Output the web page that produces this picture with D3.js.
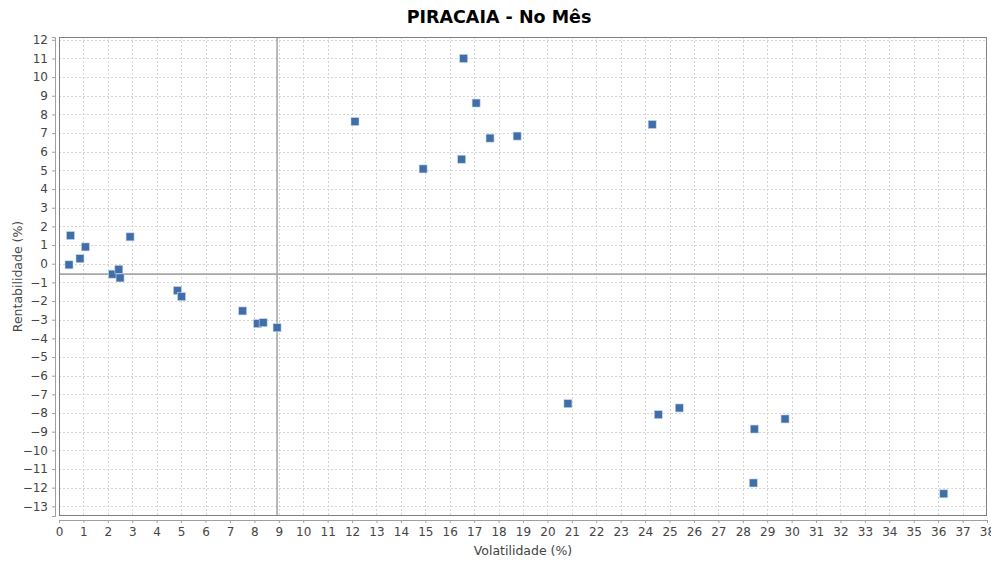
<!DOCTYPE html>
<html>
<head>
<meta charset="utf-8">
<script src="https://cdn.jsdelivr.net/npm/d3@7/dist/d3.min.js"></script>
<style>
  body { margin: 0; background: #fff; }
  svg text { font-family: "DejaVu Sans", sans-serif; }
</style>
</head>
<body>
<div id="chart"></div>
<script>
(function() {
    // data
    var volatilidade = [0.41, 0.47, 0.86, 1.08, 2.19, 2.45, 2.50, 2.91, 4.85, 5.02,
                        7.52, 8.13, 8.36, 8.93, 12.12, 14.91, 16.57, 16.49, 17.08, 17.65,
                        18.76, 24.29, 20.84, 24.54, 25.40, 28.47, 29.73, 28.43, 36.23];
    var rentabilidade = [-0.06, 1.51, 0.27, 0.90, -0.56, -0.30, -0.76, 1.44, -1.44, -1.76,
                         -2.53, -3.21, -3.16, -3.43, 7.62, 5.08, 11.0, 5.60, 8.61, 6.73,
                         6.84, 7.46, -7.50, -8.09, -7.73, -8.86, -8.32, -11.75, -12.33];
    var xTicks = d3.range(0, 39);
    var yTicks = d3.range(-13, 13);
    var crossX = 8.93;
    var crossY = -0.56;

    var width = 991, height = 563;
    var left = 59, right = 987, top = 37, bottom = 516;

    var svg = d3.select("#chart").append("svg")
        .attr("width", width)
        .attr("height", height);

    var x = d3.scaleLinear().domain([0, 38]).range([left, right]);
    var y = d3.scaleLinear().domain([-13.52, 12.15]).range([bottom, top]);

    // title
    svg.append("text")
        .attr("x", 499).attr("y", 23)
        .attr("text-anchor", "middle")
        .attr("font-size", 17.5).attr("font-weight", "bold")
        .attr("fill", "#000")
        .text("PIRACAIA - No Mês");

    // grid
    var grid = svg.append("g");
    grid.selectAll("line.gx").data(xTicks.slice(1, -1)).enter().append("line")
        .attr("x1", function(d) { return Math.round(x(d)) + 0.5; })
        .attr("x2", function(d) { return Math.round(x(d)) + 0.5; })
        .attr("y1", top).attr("y2", bottom)
        .attr("stroke", "#d4d4d4").attr("stroke-dasharray", "2,2");
    grid.selectAll("line.gy").data(yTicks).enter().append("line")
        .attr("x1", left).attr("x2", right)
        .attr("y1", function(d) { return Math.round(y(d)) + 0.5; })
        .attr("y2", function(d) { return Math.round(y(d)) + 0.5; })
        .attr("stroke", "#d4d4d4").attr("stroke-dasharray", "2,2");

    // crosshair lines
    svg.append("line")
        .attr("x1", x(crossX)).attr("x2", x(crossX))
        .attr("y1", top).attr("y2", bottom)
        .attr("stroke", "#a8a8a8").attr("stroke-width", 1.6);
    svg.append("line")
        .attr("x1", left).attr("x2", right)
        .attr("y1", y(crossY)).attr("y2", y(crossY))
        .attr("stroke", "#a8a8a8").attr("stroke-width", 1.6);

    // plot border
    svg.append("rect")
        .attr("x", left + 0.5).attr("y", top + 0.5)
        .attr("width", right - left - 1).attr("height", bottom - top - 1)
        .attr("fill", "none").attr("stroke", "#808080");

    // axes
    var xAxis = d3.axisBottom(x).tickValues(xTicks).tickSize(3).tickPadding(4);
    var yAxis = d3.axisLeft(y).tickValues(yTicks).tickSize(3).tickPadding(4);

    var gx = svg.append("g").attr("transform", "translate(0," + (bottom + 4) + ")").call(xAxis);
    var gy = svg.append("g").attr("transform", "translate(" + (left - 4) + ",0)").call(yAxis);
    [gx, gy].forEach(function(g) {
        g.select(".domain").attr("stroke", "#a0a0a0");
        g.selectAll(".tick line").attr("stroke", "#a0a0a0");
        g.selectAll(".tick text").attr("fill", "#444").attr("font-size", 12)
            .attr("font-family", "DejaVu Sans, sans-serif");
    });

    // axis labels
    svg.append("text")
        .attr("x", (left + right) / 2).attr("y", 555)
        .attr("text-anchor", "middle").attr("font-size", 12.5).attr("fill", "#444")
        .text("Volatilidade (%)");
    svg.append("text")
        .attr("transform", "translate(22," + ((top + bottom) / 2) + ") rotate(-90)")
        .attr("text-anchor", "middle").attr("font-size", 12.5).attr("fill", "#444")
        .text("Rentabilidade (%)");

    // points
    var pts = d3.range(volatilidade.length);
    svg.append("g").selectAll("rect").data(pts).enter().append("rect")
        .attr("x", function(i) { return x(volatilidade[i]) - 4; })
        .attr("y", function(i) { return y(rentabilidade[i]) - 4; })
        .attr("width", 8).attr("height", 8)
        .attr("fill", "#3f6ea8")
        .attr("stroke", "#c5d5ea").attr("stroke-width", 0.6);
})();
</script>
</body>
</html>
